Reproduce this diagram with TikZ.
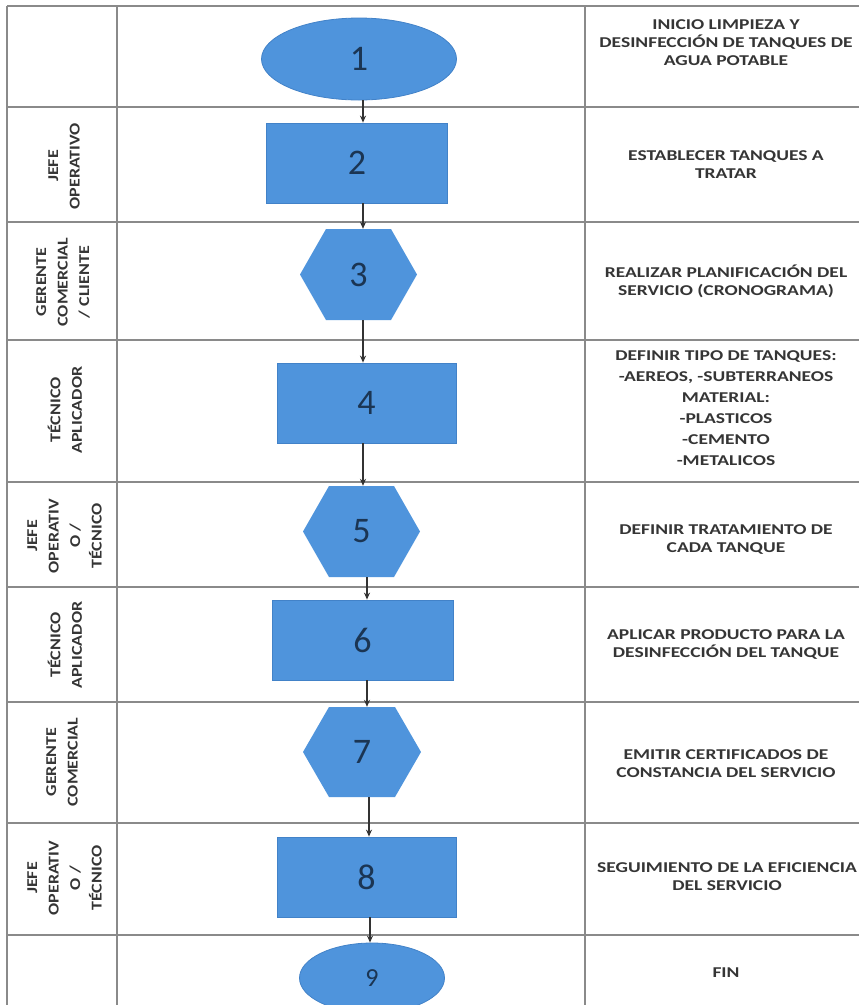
\documentclass[tikz,border=0pt]{standalone}
\usepackage{fontspec}
\setmainfont{Carlito}
\newfontfamily\cellfont[FakeStretch=1.3]{Carlito}
\newfontfamily\rolefont[FakeStretch=1.2]{Carlito}
\usetikzlibrary{shapes.geometric,arrows.meta}
\definecolor{shapefill}{HTML}{4F94DC}
\definecolor{shapeline}{HTML}{4282C8}
\definecolor{numcol}{HTML}{1B3553}
\definecolor{gridcol}{HTML}{8A8A8A}
\definecolor{txtcol}{HTML}{353535}
\begin{document}
\begin{tikzpicture}[x=1pt,y=-1pt,
  grid/.style={draw=gridcol, line width=1.3pt},
  numfont/.style={text=numcol, font=\fontsize{36}{36}\selectfont},
  shapebase/.style={fill=shapefill, draw=shapeline, line width=0.8pt, numfont, inner sep=0pt},
  procbox/.style={shapebase, rectangle, minimum width=180, minimum height=80},
  termin/.style={shapebase, ellipse, minimum width=195, minimum height=82},
  hexa/.style={inner sep=0pt, numfont, minimum width=117, minimum height=91,
    path picture={\fill[shapefill]
      ([xshift=26pt]path picture bounding box.north west) --
      ([xshift=-26pt]path picture bounding box.north east) --
      (path picture bounding box.east) --
      ([xshift=-26pt]path picture bounding box.south east) --
      ([xshift=26pt]path picture bounding box.south west) --
      (path picture bounding box.west) -- cycle;}},
  flow/.style={draw=black!80, line width=1.2pt, -{Stealth[length=7pt,width=6pt]}},
  desc/.style={font=\fontsize{15}{18}\cellfont\bfseries, text=txtcol, align=center, inner sep=0pt},
  role/.style={font=\fontsize{15}{21.5}\rolefont\bfseries, text=txtcol, align=center, inner sep=0pt, rotate=90}
]
\useasboundingbox (0,0) rectangle (859,1005);
\clip (0,0) rectangle (859,1005);
\fill[white] (0,0) rectangle (859,1005);

% table grid
\foreach \yy in {6,107,222,340,482,587,702,823,935}
  \draw[grid] (7,\yy) -- (859,\yy);
\foreach \xx in {7,117,585}
  \draw[grid] (\xx,6) -- (\xx,1005);

% flow shapes
\node[termin] (n1) at (359,59) {1};
\node[procbox, minimum width=181] (n2) at (357,163) {2};
\node[hexa] (n3) at (358.5,274.5) {3};
\node[procbox, minimum width=179] (n4) at (366.5,403) {4};
\node[hexa] (n5) at (361.5,531.5) {5};
\node[procbox, minimum width=181] (n6) at (362.5,640) {6};
\node[hexa, minimum width=118, minimum height=90] (n7) at (362,752) {7};
\node[procbox, minimum width=179] (n8) at (366.5,877) {8};
\node[termin, minimum width=145, minimum height=70, font=\fontsize{26}{26}\selectfont] (n9) at (372,978) {9};

% connectors
\draw[flow] ([xshift=4pt]n1.south) -- ([xshift=4pt]n1.south |- n2.north);
\draw[flow] ([xshift=6pt]n2.south) -- ([xshift=6pt]n2.south |- n3.north);
\draw[flow] ([xshift=4.5pt]n3.south) -- ([xshift=4.5pt]n3.south |- n4.north);
\draw[flow] ([xshift=-3.5pt]n4.south) -- ([xshift=-3.5pt]n4.south |- n5.north);
\draw[flow] ([xshift=5.5pt]n5.south) -- ([xshift=5.5pt]n5.south |- n6.north);
\draw[flow] ([xshift=4.5pt]n6.south) -- ([xshift=4.5pt]n6.south |- n7.north);
\draw[flow] ([xshift=7pt]n7.south) -- ([xshift=7pt]n7.south |- n8.north);
\draw[flow] ([xshift=3.5pt]n8.south) -- ([xshift=3.5pt]n8.south |- n9.north);

% descriptions
\node[desc] (d1) at (726,43) {INICIO LIMPIEZA Y\\DESINFECCIÓN DE TANQUES DE\\AGUA POTABLE};
\node[desc] (d2) at (726,165) {ESTABLECER TANQUES A\\TRATAR};
\node[desc] (d3) at (726,281) {REALIZAR PLANIFICACIÓN DEL\\SERVICIO (CRONOGRAMA)};
\node[desc, font=\fontsize{15}{21}\cellfont\bfseries] (d4) at (726,408) {DEFINIR TIPO DE TANQUES:\\-AEREOS, -SUBTERRANEOS\\MATERIAL:\\-PLASTICOS\\-CEMENTO\\-METALICOS};
\node[desc] (d5) at (726,540) {DEFINIR TRATAMIENTO DE\\CADA TANQUE};
\node[desc] (d6) at (726,645) {APLICAR PRODUCTO PARA LA\\DESINFECCIÓN DEL TANQUE};
\node[desc] (d7) at (726,764) {EMITIR CERTIFICADOS DE\\CONSTANCIA DEL SERVICIO};
\node[desc] (d8) at (727,877) {SEGUIMIENTO DE LA EFICIENCIA\\DEL SERVICIO};
\node[desc] (d9) at (726,973) {FIN};

% roles
\node[role] (r2) at (64,166) {JEFE\\OPERATIVO};
\node[role] (r3) at (63,282) {GERENTE\\COMERCIAL\\/ CLIENTE};
\node[role] (r4) at (65,410) {TÉCNICO\\APLICADOR};
\node[role] (r5) at (64.5,536) {JEFE\\OPERATIV\\O /\\TÉCNICO};
\node[role] (r6) at (65,645) {TÉCNICO\\APLICADOR};
\node[role] (r7) at (62,762) {GERENTE\\COMERCIAL};
\node[role] (r8) at (64.5,878) {JEFE\\OPERATIV\\O /\\TÉCNICO};
\end{tikzpicture}
\end{document}
